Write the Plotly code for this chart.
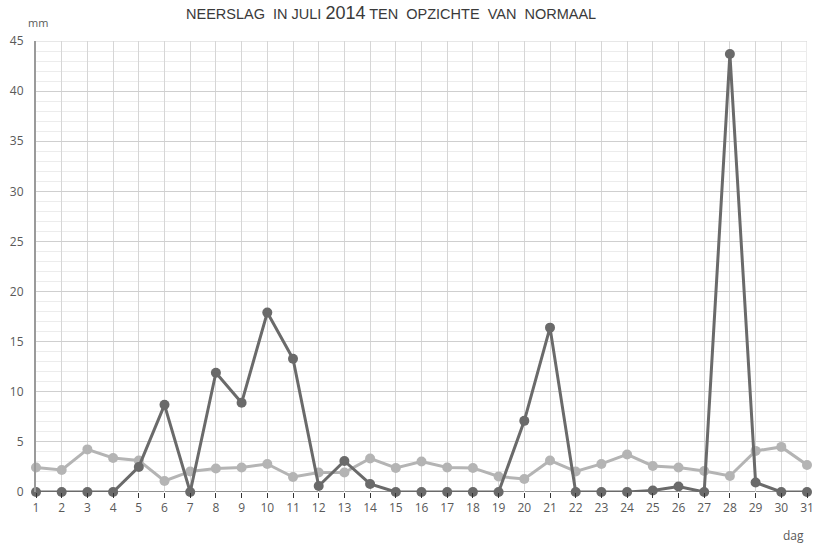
import plotly.graph_objects as go

days = list(range(1, 32))
neerslag_2014 = [0, 0, 0, 0, 2.5, 8.7, 0, 11.9, 8.9, 17.9, 13.3, 0.6, 3.1, 0.8, 0,
                 0, 0, 0, 0, 7.1, 16.4, 0, 0, 0, 0.15, 0.55, 0, 43.7, 0.95, 0, 0]
normaal = [2.45, 2.2, 4.25, 3.4, 3.15, 1.1, 2.05, 2.35, 2.45, 2.8, 1.5, 1.95, 1.95, 3.35, 2.4,
           3.05, 2.45, 2.4, 1.55, 1.3, 3.15, 2.05, 2.8, 3.75, 2.6, 2.45, 2.1, 1.6, 4.1, 4.5, 2.7]
y_ticks = [0, 5, 10, 15, 20, 25, 30, 35, 40, 45]

fig = go.Figure()
fig.add_trace(go.Scatter(
    x=days, y=normaal, mode="lines+markers",
    line=dict(color="#b4b4b4", width=3),
    marker=dict(color="#b4b4b4", size=10),
    cliponaxis=False, name="normaal"))
fig.add_trace(go.Scatter(
    x=days, y=neerslag_2014, mode="lines+markers",
    line=dict(color="#6a6a6a", width=3),
    marker=dict(color="#6a6a6a", size=10),
    cliponaxis=False, name="2014"))

fig.update_layout(
    width=814, height=543,
    margin=dict(l=36, r=7, t=41, b=51),
    paper_bgcolor="white", plot_bgcolor="white",
    showlegend=False,
    font=dict(family="Open Sans, Liberation Sans, sans-serif", size=12, color="#595959"),
    xaxis=dict(
        range=[1, 31], tickvals=days, ticktext=[str(d) for d in days],
        showgrid=True, gridcolor="#d6d6d6", gridwidth=1,
        ticks="outside", ticklen=5, tickcolor="#333333",
        zeroline=False, showline=False, automargin=False,
        ticklabeloverflow="allow",
        tickfont=dict(size=12, color="#595959"),
    ),
    yaxis=dict(
        range=[0, 45], tickvals=y_ticks,
        showgrid=True, gridcolor="#cfcfcf", gridwidth=1,
        minor=dict(dtick=1, showgrid=True, gridcolor="#ececec", gridwidth=1),
        zeroline=False, showline=True, linecolor="#9a9a9a", linewidth=2,
        ticks="", ticklabelstandoff=8, automargin=False,
        tickfont=dict(size=12, color="#595959"),
    ),
    shapes=[
        dict(type="line", xref="paper", yref="y", x0=0, x1=1, y0=0, y1=0,
             line=dict(color="#222222", width=1.2), layer="below"),
        dict(type="line", xref="paper", yref="y", x0=0, x1=1, y0=45, y1=45,
             line=dict(color="#cfcfcf", width=1), layer="below"),
        dict(type="line", xref="x", yref="paper", x0=31, x1=31, y0=0, y1=1,
             line=dict(color="#d6d6d6", width=1), layer="below"),
    ],
    annotations=[
        dict(text="NEERSLAG&nbsp; IN JULI <span style='font-size:18px'>2014</span> TEN&nbsp; OPZICHTE&nbsp; VAN&nbsp; NORMAAL",
             xref="paper", yref="paper", x=0.461, y=1, yshift=28, showarrow=False,
             font=dict(family="Liberation Sans Narrow, Arial Narrow, Liberation Sans, sans-serif", size=14.5, color="#3a3a3a"),
             xanchor="center", yanchor="middle"),
        dict(text="mm", xref="paper", yref="paper", x=0, y=1, xshift=-10, yshift=19,
             showarrow=False, xanchor="left", yanchor="middle",
             font=dict(size=11, color="#595959")),
        dict(text="dag", xref="paper", yref="paper", x=1, y=0, xshift=-1, yshift=-43,
             showarrow=False, xanchor="right", yanchor="middle",
             font=dict(size=12, color="#595959")),
    ],
)

fig.write_html("out.html", config={"displayModeBar": False},
               post_script="document.body.style.margin='0px';")
